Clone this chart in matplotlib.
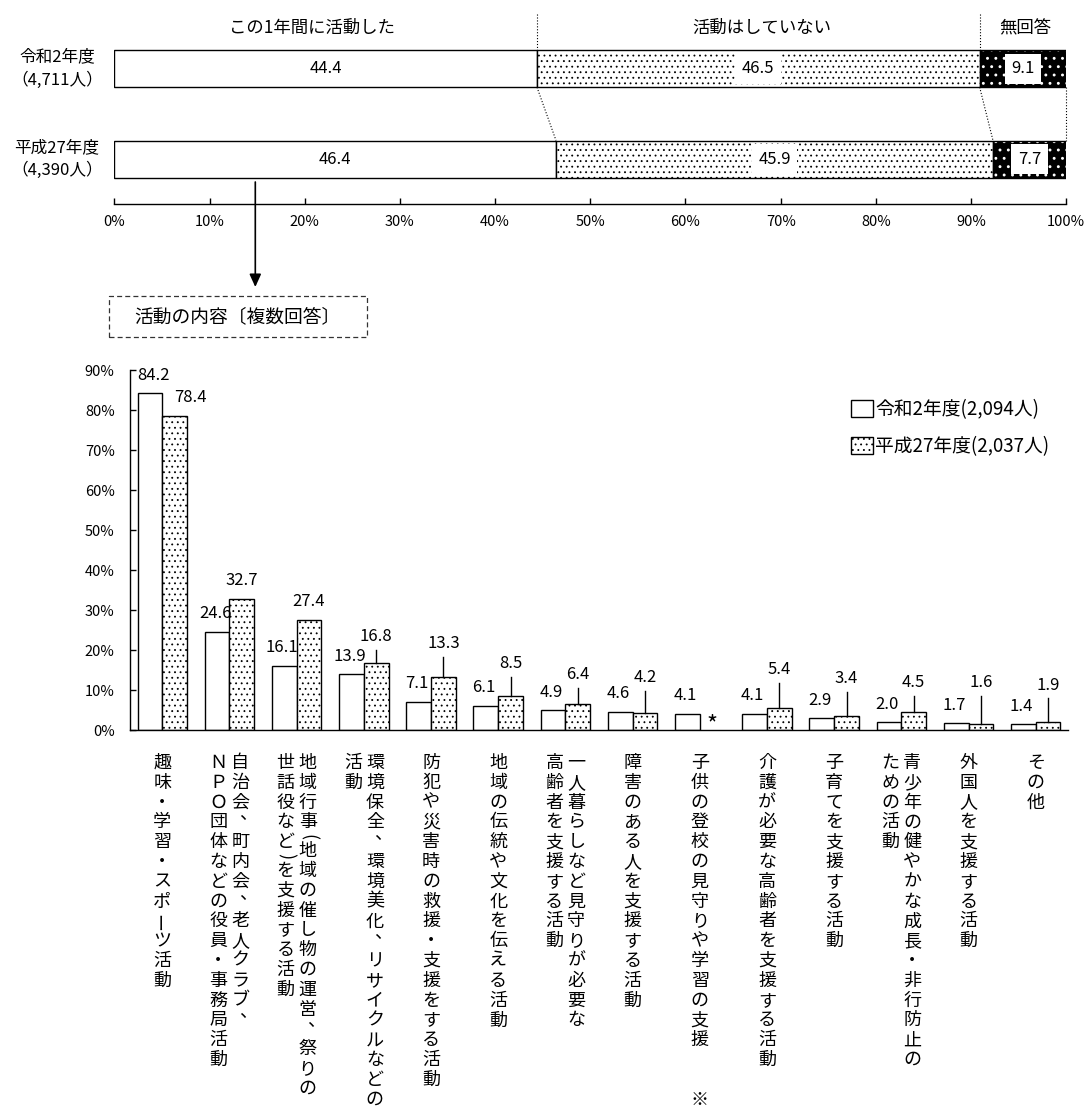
import numpy as np
import matplotlib.pyplot as plt
from matplotlib.patches import Rectangle, FancyArrowPatch
from matplotlib.transforms import blended_transform_factory

plt.rcParams['font.family'] = ['Noto Sans CJK JP', 'DejaVu Sans']
plt.rcParams['hatch.linewidth'] = 0.6

W, H = 1087, 1110

# ── Data: activity in the last year (top) ──────────────────────────────────
top_rows = ['令和2年度\n（4,711人）', '平成27年度\n（4,390人）']
top_heads = ['この1年間に活動した', '活動はしていない', '無回答']
top_r2 = [44.4, 46.5, 9.1]
top_h27 = [46.4, 45.9, 7.7]
top_ticks = list(range(0, 101, 10))

# ── Data: content of activity (bottom) ─────────────────────────────────────
series_names = ['令和2年度(2,094人)', '平成27年度(2,037人)']
categories = [
    '趣味・学習・スポーツ活動',
    '自治会、町内会、老人クラブ、\nＮＰＯ団体などの役員・事務局活動',
    '地域行事（地域の催し物の運営、祭りの\n世話役など）を支援する活動',
    '環境保全、環境美化、リサイクルなどの\n活動',
    '防犯や災害時の救援・支援をする活動',
    '地域の伝統や文化を伝える活動',
    '一人暮らしなど見守りが必要な\n高齢者を支援する活動',
    '障害のある人を支援する活動',
    '子供の登校の見守りや学習の支援　　※',
    '介護が必要な高齢者を支援する活動',
    '子育てを支援する活動',
    '青少年の健やかな成長・非行防止の\nための活動',
    '外国人を支援する活動',
    'その他',
]
r2_vals = [84.2, 24.6, 16.1, 13.9, 7.1, 6.1, 4.9, 4.6, 4.1, 4.1, 2.9, 2.0, 1.7, 1.4]
h27_vals = [78.4, 32.7, 27.4, 16.8, 13.3, 8.5, 6.4, 4.2, np.nan, 5.4, 3.4, 4.5, 1.6, 1.9]
pct_ticks = list(range(0, 91, 10))

# label heights for the H27 values (layout only)
h27_lab_y = [83.0, 37.4, 32.2, 23.3, 21.5, 16.5, 13.8, 13.0, np.nan,
             15.0, 12.8, 11.8, 11.8, 11.1]

DOTS = '...'


def fx(px):
    return px / W


def fy(py):
    return 1 - py / H


fig = plt.figure(figsize=(W / 100, H / 100), dpi=100)

# ── Top stacked bars ───────────────────────────────────────────────────────
ax_t = fig.add_axes([fx(114.3), fy(204), (1066.3 - 114.3) / W, (204 - 14) / H])
ax_t.set_xlim(0, 100)
ax_t.set_ylim(1.498, -0.606)
bh = 0.41

for i, vals in enumerate([top_r2, top_h27]):
    left = 0
    for j, v in enumerate(vals):
        if j == 0:
            ax_t.barh(i, v, left=left, height=bh, color='white',
                      edgecolor='black', linewidth=1)
        elif j == 1:
            ax_t.barh(i, v, left=left, height=bh, color='white',
                      edgecolor='black', linewidth=1, hatch=DOTS)
        else:
            plt.rcParams['hatch.linewidth'] = 0.9
            ax_t.barh(i, v, left=left, height=bh, color='black',
                      edgecolor='white', linewidth=0, hatch='..')
            plt.rcParams['hatch.linewidth'] = 0.6
            ax_t.barh(i, v, left=left, height=bh, fill=False,
                      edgecolor='black', linewidth=1)
        box = None if j == 0 else dict(boxstyle='square,pad=0.4',
                                       fc='white', ec='none')
        ax_t.text(left + v / 2, i, f'{v:.1f}', ha='center', va='center',
                  fontsize=12, bbox=box, zorder=5)
        left += v
    ax_t.text(-0.0602, i, top_rows[i], transform=blended_transform_factory(
        ax_t.transAxes, ax_t.transData), ha='center', va='center',
        multialignment='center', fontsize=12, linespacing=1.45)

b_r2 = np.cumsum(top_r2)
b_h27 = np.cumsum(top_h27)
for k in range(3):
    ax_t.plot([b_r2[k], b_h27[k]], [bh / 2, 1 - bh / 2], ls=':', lw=0.8,
              color='black', clip_on=False)
for k in range(2):
    ax_t.plot([b_r2[k], b_r2[k]], [-0.606, -bh / 2], ls=':', lw=0.8,
              color='black', clip_on=False)

head_x = [20.8, 68.0, 95.7]
for hx, ht in zip(head_x, top_heads):
    ax_t.text(hx, -0.45, ht, ha='center', va='center', fontsize=12.5)

ax_t.set_xticks(top_ticks)
ax_t.set_xticklabels([f'{t}%' for t in top_ticks], fontsize=10.5)
ax_t.set_yticks([])
ax_t.tick_params(axis='x', direction='in', length=4, width=1, pad=8)
for s in ['top', 'left', 'right']:
    ax_t.spines[s].set_visible(False)
ax_t.spines['bottom'].set_linewidth(1)

# arrow + dashed title box
fig.add_artist(FancyArrowPatch((fx(255.3), fy(182)), (fx(255.3), fy(287)),
                               transform=fig.transFigure,
                               arrowstyle='-|>,head_length=0.55,head_width=0.25',
                               mutation_scale=14, lw=1.2, color='black',
                               shrinkA=0, shrinkB=0))
fig.add_artist(Rectangle((fx(109), fy(336.7)), (366.7 - 109) / W, 41 / H,
                         transform=fig.transFigure, fill=False,
                         ls=(0, (4, 2.5)), lw=0.9, ec='#333333'))
fig.text(fx(237.8), fy(316.5), '活動の内容〔複数回答〕', ha='center',
         va='center', fontsize=13.5)

# ── Bottom grouped bars ────────────────────────────────────────────────────
ax_b = fig.add_axes([fx(130), fy(730), (1068 - 130) / W, 360 / H])
ax_b.set_xlim(-0.48, 13.48)
ax_b.set_ylim(0, 90)
x = np.arange(len(categories))
bw = 0.368

bars1 = ax_b.bar(x - bw / 2, r2_vals, bw, color='white', edgecolor='black',
                 linewidth=1, label=series_names[0])
bars2 = ax_b.bar(x + bw / 2, h27_vals, bw, color='white', edgecolor='black',
                 linewidth=1, hatch=DOTS, label=series_names[1])

for i, v in enumerate(r2_vals):
    dx = 0.05 if i == 0 else -0.03
    ax_b.text(x[i] - bw / 2 + dx, v + 4.4, f'{v:.1f}', ha='center',
              va='center', fontsize=12)

for i, v in enumerate(h27_vals):
    if np.isnan(v):
        ax_b.text(x[i] + bw / 2, 1.2, '*', ha='center', va='center',
                  fontsize=17)
        continue
    ly = h27_lab_y[i]
    dx = 0.24 if i == 0 else 0
    ax_b.text(x[i] + bw / 2 + dx, ly, f'{v:.1f}', ha='center', va='center',
              fontsize=12)
    if ly - v > 6:
        ax_b.plot([x[i] + bw / 2] * 2, [v, ly - 3.2], color='black', lw=1)

ax_b.set_yticks(pct_ticks)
ax_b.set_yticklabels([f'{t}%' for t in pct_ticks], fontsize=10.5)
ax_b.set_xticks([])
ax_b.tick_params(axis='y', direction='in', length=4, width=1, pad=11)
for s in ['top', 'right']:
    ax_b.spines[s].set_visible(False)
ax_b.spines['left'].set_linewidth(1)
ax_b.spines['bottom'].set_linewidth(1)

ax_b.legend(handles=[bars1, bars2], loc='upper left',
            bbox_to_anchor=(fx(851), fy(399)), bbox_transform=fig.transFigure,
            frameon=False, fontsize=13.5, handlelength=1.15, handleheight=1.0,
            handletextpad=0.15, labelspacing=0.85, borderpad=0,
            borderaxespad=0)

# ── Vertical category labels ───────────────────────────────────────────────
trans = blended_transform_factory(ax_b.transData, fig.transFigure)
step = 19.8
unit = 67.0
for i, cat in enumerate(categories):
    cols = cat.split('\n')
    for k, col in enumerate(cols):
        xoff = 0 if len(cols) == 1 else (11 if k == 0 else -11)
        cursor = 763 - step / 2
        for ch in col:
            adv = 0.45 if ch in '（）' else 1.0
            cy = cursor + adv * step / 2
            cursor += adv * step
            if ch == '　':
                continue
            rot, dxp, dyp, glyph = 0, 0, 0, ch
            if ch in '（）':
                rot = -90
                glyph = '(' if ch == '（' else ')'
            elif ch == 'ー':
                rot = 90
            elif ch == '、':
                dxp, dyp = 8, -8
            ax_b.text(x[i] + (xoff + dxp) / unit, fy(cy + dyp), glyph,
                      transform=trans, ha='center', va='center',
                      rotation=rot, rotation_mode='anchor', fontsize=13,
                      clip_on=False)

fig.savefig('out.png', dpi=100)
